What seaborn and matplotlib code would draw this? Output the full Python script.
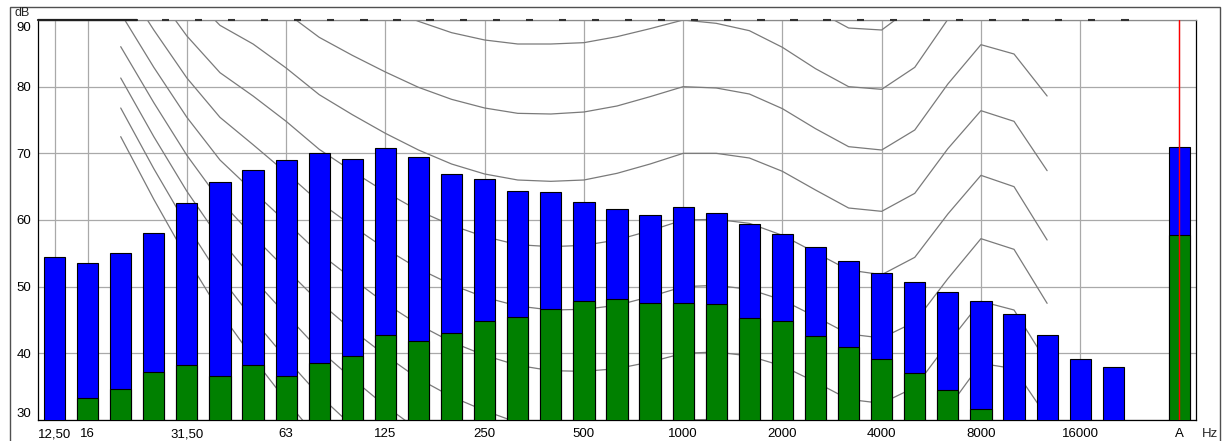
import numpy as np
import pandas as pd
import matplotlib
matplotlib.use("Agg")
import matplotlib.pyplot as plt
from matplotlib.patches import Rectangle
from matplotlib.transforms import ScaledTranslation
import seaborn as sns

# ---------------- data ----------------
bands = ["12,50", "16", "20", "25", "31,50", "40", "50", "63", "80", "100", "125", "160",
         "200", "250", "315", "400", "500", "630", "800", "1000", "1250", "1600", "2000",
         "2500", "3150", "4000", "5000", "6300", "8000", "10000", "12500", "16000", "20000"]
total_db = [54.5, 53.6, 55.0, 58.1, 62.5, 65.7, 67.5, 69.0, 70.1, 69.2, 70.8, 69.5,
            66.9, 66.1, 64.4, 64.2, 62.7, 61.7, 60.7, 62.0, 61.1, 59.4, 57.9,
            55.9, 53.8, 52.1, 50.7, 49.2, 47.8, 45.9, 42.7, 39.2, 37.9]
green_db = [np.nan, 33.3, 34.6, 37.2, 38.3, 36.6, 38.3, 36.6, 38.5, 39.6, 42.7, 41.8,
            43.1, 44.8, 45.5, 46.6, 47.9, 48.1, 47.5, 47.5, 47.4, 45.3, 44.8,
            42.6, 40.9, 39.1, 37.0, 34.5, 31.7, np.nan, np.nan, np.nan, np.nan]
a_band = "A"
a_total = 70.9
a_green = 57.8

tick_bands = ["12,50", "16", "31,50", "63", "125", "250", "500", "1000", "2000",
              "4000", "8000", "16000", "A"]
y_ticks = [30, 40, 50, 60, 70, 80, 90]

# equal-loudness contours (phon) at the bands 20 Hz ... 12500 Hz
contour_bands = bands[2:31]
phon_levels = [0, 10, 20, 30, 40, 50, 60, 70, 80, 90, 100]
phon_0 = [72.5, 63.1, 54.3, 46.2, 39.3, 32.9, 27.0, 22.3, 17.8, 13.8, 10.8, 8.1, 5.7, 3.9, 2.5,
          1.3, 0.5, 0.0, -0.7, -1.9, -3.5, -5.7, -8.1, -8.3, -5.4, 2.5, 11.6, 13.1, 8.8]
phon_10 = [76.8, 67.7, 59.2, 51.5, 45.1, 39.2, 33.7, 29.1, 24.8, 21.0, 18.1, 15.6, 13.4, 11.9,
           10.9, 10.1, 9.9, 10.0, 9.7, 8.7, 7.2, 5.0, 2.6, 2.2, 4.8, 12.2, 20.4, 21.0, 15.5]
phon_20 = [81.3, 72.5, 64.3, 57.1, 51.2, 45.8, 40.5, 36.2, 32.1, 28.5, 25.7, 23.3, 21.4, 20.1,
           19.4, 19.1, 19.4, 20.0, 19.9, 19.2, 17.7, 15.4, 13.0, 12.5, 15.0, 22.0, 29.4, 29.2, 22.7]
phon_30 = [86.0, 77.6, 69.7, 62.9, 57.6, 52.6, 47.7, 43.5, 39.7, 36.2, 33.5, 31.4, 29.6, 28.6,
           28.2, 28.3, 29.0, 30.0, 30.1, 29.5, 28.0, 25.7, 23.2, 22.6, 25.0, 31.7, 38.5, 37.7, 30.4]
phon_40 = [91.0, 82.9, 75.4, 69.0, 64.3, 59.7, 55.0, 51.2, 47.5, 44.3, 41.7, 39.7, 38.2, 37.4,
           37.3, 37.7, 38.7, 40.0, 40.2, 39.6, 38.1, 35.7, 33.1, 32.5, 34.9, 41.5, 47.8, 46.5, 38.6]
phon_50 = [96.2, 88.5, 81.3, 75.4, 71.3, 67.1, 62.7, 59.1, 55.7, 52.7, 50.3, 48.4, 47.1, 46.5,
           46.6, 47.2, 48.5, 50.0, 50.2, 49.6, 48.0, 45.5, 42.9, 42.3, 44.7, 51.2, 57.2, 55.6, 47.5]
phon_60 = [101.7, 94.4, 87.6, 82.1, 78.6, 74.8, 70.6, 67.3, 64.2, 61.4, 59.2, 57.5, 56.3, 56.0,
           56.2, 57.0, 58.4, 60.0, 60.1, 59.5, 57.7, 55.1, 52.5, 51.8, 54.4, 60.9, 66.7, 65.0, 57.0]
phon_70 = [107.6, 100.7, 94.3, 89.2, 86.4, 82.8, 78.8, 75.8, 73.0, 70.5, 68.4, 66.9, 66.0, 65.8,
           66.0, 67.0, 68.4, 70.0, 70.0, 69.3, 67.3, 64.5, 61.8, 61.3, 64.0, 70.7, 76.4, 74.8, 67.4]
phon_80 = [113.7, 107.3, 101.3, 96.6, 94.6, 91.1, 87.4, 84.7, 82.2, 79.9, 78.1, 76.8, 76.0, 75.9,
           76.2, 77.1, 78.5, 80.0, 79.8, 78.9, 76.7, 73.7, 71.0, 70.5, 73.5, 80.4, 86.3, 84.9, 78.6]
phon_90 = [120.3, 114.4, 108.7, 104.4, 103.2, 99.8, 96.3, 94.0, 91.8, 89.8, 88.1, 87.0, 86.4, 86.4,
           86.6, 87.5, 88.7, 90.0, 89.5, 88.4, 85.9, 82.7, 80.0, 79.6, 82.9, 90.1, 96.3, 95.5, 90.9]
phon_100 = [127.2, 121.9, 116.6, 112.6, 112.3, 108.9, 105.6, 103.6, 101.8, 100.1, 98.7, 97.8,
            97.2, 97.3, 97.4, 98.1, 99.0, 100.0, 99.1, 97.7, 94.9, 91.5, 88.8, 88.5, 92.2, 99.9,
            106.6, 106.4, 104.3]
contours = [phon_0, phon_10, phon_20, phon_30, phon_40, phon_50, phon_60, phon_70, phon_80,
            phon_90, phon_100]

# ---------------- style ----------------
sns.set_style("white")
plt.rcParams["font.family"] = ["Liberation Sans", "DejaVu Sans"]
plt.rcParams["font.size"] = 9.5

W, H = 1230, 441
fig = plt.figure(figsize=(W / 100, H / 100), dpi=100)
fig.patch.set_facecolor("white")
ax = fig.add_axes([38 / W, 21 / H, (1196 - 38) / W, 400 / H])

order = bands + [" ", a_band]
df_total = pd.DataFrame({"band": bands + [a_band], "level": total_db + [a_total]})
df_green = pd.DataFrame({"band": bands + [a_band], "level": green_db + [a_green]}).dropna()

sns.barplot(data=df_total, x="band", y="level", order=order, color="#0000ff", saturation=1,
            width=0.64, edgecolor="black", linewidth=0.8, errorbar=None, ax=ax, zorder=3)
sns.barplot(data=df_green, x="band", y="level", order=order, color="#008000", saturation=1,
            width=0.64, edgecolor="black", linewidth=0.8, errorbar=None, ax=ax, zorder=3)

pos = [order.index(b) for b in contour_bands]
for lvl, vals in zip(phon_levels, contours):
    sns.lineplot(x=pos, y=vals, ax=ax, color="#7a7a7a", linewidth=0.9, zorder=2,
                 estimator=None, sort=False)

ax.set_xlim(-0.5, len(order) - 0.5)
ax.set_ylim(y_ticks[0], y_ticks[-1])
ax.set_xticks([order.index(b) for b in tick_bands])
ax.set_xticklabels(tick_bands)
ax.set_yticks(y_ticks)
ax.set_yticklabels([str(v) for v in y_ticks])
ax.set_xlabel("")
ax.set_ylabel("")
ax.grid(True, color="#a9a9a9", linewidth=0.9)
ax.set_axisbelow(True)
for g in ax.get_xgridlines() + ax.get_ygridlines():
    g.set_zorder(0.5)

ax.tick_params(axis="both", direction="out", length=3.5, width=0.8, color="black",
               pad=1.5, labelsize=9.5, labelcolor="black")
ax.tick_params(axis="x", pad=2.5)
yt = ax.yaxis.get_major_ticks()
yt[0].label1.set_verticalalignment("bottom")
yt[-1].label1.set_verticalalignment("top")
yt[-1].label1.set_transform(yt[-1].label1.get_transform()
                            + ScaledTranslation(0, -2.5 / 100, fig.dpi_scale_trans))

for side in ["left", "bottom", "right"]:
    ax.spines[side].set_color("black")
    ax.spines[side].set_linewidth(0.9)
ax.spines["top"].set_color("#8a8a8a")
ax.spines["top"].set_linewidth(0.9)

# dark top-edge segments (clipped contour marks along 90 dB)
n_slots = len(order)
ax.axhline(y_ticks[-1], xmin=0, xmax=3 / n_slots, color="#202020", linewidth=1.6,
           zorder=6, clip_on=False)
dash_pos = [order.index(b) for b in bands[3:]]
ax.hlines([y_ticks[-1]] * len(dash_pos), [p + 0.24 for p in dash_pos],
          [p + 0.46 for p in dash_pos], color="#303030", linewidth=1.5, zorder=6,
          clip_on=False)

# red marker through the A-weighted total
ax.axvline(order.index(a_band), color="red", linewidth=1.0, zorder=7)

fig.text(22 / W, 1 - 12.5 / H, "dB", ha="center", va="center", fontsize=9)
fig.text(1210 / W, 1 - 434 / H, "Hz", ha="center", va="center", fontsize=9.5)

fig.patches.append(Rectangle((9.5 / W, -0.05), (1219.5 - 9.5) / W, 1 - 6.5 / H + 0.05,
                             transform=fig.transFigure, fill=False,
                             edgecolor="#505050", linewidth=1.0))

fig.savefig("out.png", dpi=100, facecolor="white")
